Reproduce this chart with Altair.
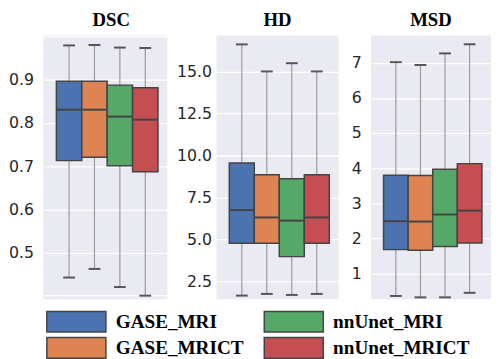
import altair as alt
import pandas as pd

methods = ["GASE_MRI", "GASE_MRICT", "nnUnet_MRI", "nnUnet_MRICT"]
colors = ["#4C72B0", "#DD8452", "#55A868", "#C44E52"]

# legend grid position of each method (col, row)
legend_col = [0, 0, 1, 1]
legend_row = [0, 1, 0, 1]

# DSC box statistics
dsc_lo = [0.442, 0.462, 0.420, 0.400]
dsc_q1 = [0.713, 0.721, 0.701, 0.687]
dsc_med = [0.831, 0.831, 0.815, 0.808]
dsc_q3 = [0.897, 0.897, 0.888, 0.882]
dsc_hi = [0.980, 0.981, 0.975, 0.974]

# HD box statistics
hd_lo = [1.66, 1.76, 1.70, 1.76]
hd_q1 = [4.77, 4.77, 3.98, 4.77]
hd_med = [6.75, 6.31, 6.12, 6.31]
hd_q3 = [9.55, 8.85, 8.62, 8.85]
hd_hi = [16.61, 15.00, 15.49, 15.00]

# MSD box statistics
msd_lo = [0.36, 0.32, 0.32, 0.45]
msd_q1 = [1.68, 1.66, 1.77, 1.87]
msd_med = [2.49, 2.48, 2.68, 2.79]
msd_q3 = [3.80, 3.79, 3.97, 4.13]
msd_hi = [7.02, 6.94, 7.27, 7.53]

dsc_ticks = [0.5, 0.6, 0.7, 0.8, 0.9]
dsc_extra_grid = [0.4, 1.0]
hd_ticks = [2.5, 5.0, 7.5, 10.0, 12.5, 15.0]
msd_ticks = [1, 2, 3, 4, 5, 6, 7]

BG = "#EAEAF2"
EDGE = "#444444"
TXT = "#262626"
PANEL_H = 268
PAD_OUT = 0.44


def make_df(lo, q1, med, q3, hi):
    return pd.DataFrame({"method": methods, "lo": lo, "q1": q1, "med": med,
                         "q3": q3, "hi": hi})


def panel(df, title, domain, ticks, fmt, width, label_pad, min_extent, title_dx,
          extra_grid=None):
    band = width / (4 + 2 * PAD_OUT)
    x = alt.X("method:N", sort=methods, axis=None,
              scale=alt.Scale(paddingInner=0, paddingOuter=PAD_OUT, align=0.58))
    yscale = alt.Scale(domain=domain, nice=False, zero=False)
    axis = alt.Axis(values=ticks, format=fmt, grid=True, gridColor="white",
                    gridWidth=1.3, domain=False, ticks=False, labelPadding=label_pad,
                    minExtent=min_extent, labelFont="DejaVu Sans", labelFontSize=16,
                    labelColor=TXT, title=None)
    base = alt.Chart(df).encode(x=x)
    whisk = base.mark_rule(color="#9a9a9a", strokeWidth=1.2).encode(
        y=alt.Y("lo:Q", scale=yscale, axis=axis), y2="hi:Q")
    box = base.mark_bar(stroke=EDGE, strokeWidth=1.5, opacity=1).encode(
        y=alt.Y("q1:Q"), y2="q3:Q",
        color=alt.Color("method:N", scale=alt.Scale(domain=methods, range=colors),
                        legend=None))
    med = base.mark_tick(color=EDGE, thickness=2, size=band - 1, opacity=1).encode(y="med:Q")
    cap_lo = base.mark_tick(color="#555555", thickness=2, size=12, opacity=1).encode(y="lo:Q")
    cap_hi = base.mark_tick(color="#555555", thickness=2, size=12, opacity=1).encode(y="hi:Q")
    layers = [whisk, box, med, cap_lo, cap_hi]
    if extra_grid:
        g = alt.Chart(pd.DataFrame({"v": extra_grid})).mark_rule(
            color="white", strokeWidth=1.3).encode(y="v:Q")
        layers = [whisk, g, box, med, cap_lo, cap_hi]
    return alt.layer(*layers).properties(
        width=width, height=PANEL_H,
        view=alt.ViewBackground(fill=BG, strokeWidth=0),
        title=alt.TitleParams(title, font="Liberation Serif", fontWeight="bold",
                              fontSize=19, color="black", offset=-13, dx=title_dx,
                              baseline="bottom"),
    )


p_dsc = panel(make_df(dsc_lo, dsc_q1, dsc_med, dsc_q3, dsc_hi), "DSC", [0.392, 1.003],
              dsc_ticks, ".1f", 126, 10, 30, 6, dsc_extra_grid)
p_hd = panel(make_df(hd_lo, hd_q1, hd_med, hd_q3, hd_hi), "HD", [1.45, 17.14],
             hd_ticks, ".1f", 124, 5, 43.5, 0)
p_msd = panel(make_df(msd_lo, msd_q1, msd_med, msd_q3, msd_hi), "MSD", [0.27, 7.78],
              msd_ticks, "d", 122, 10, 28, 0)

top = alt.hconcat(p_dsc, p_hd, p_msd, spacing=5).resolve_scale(
    y="independent", x="independent")

leg_df = pd.DataFrame({"method": methods, "col": legend_col, "row": legend_row})
lx = alt.X("col:Q", scale=alt.Scale(domain=[0, 1], range=[33.5, 254.5]), axis=None)
ly = alt.Y("row:Q", scale=alt.Scale(domain=[0, 1], range=[23, 49.5]), axis=None)
lbase = alt.Chart(leg_df).encode(x=lx, y=ly)
swatch = lbase.mark_point(shape="M-1,-0.35H1V0.35H-1Z", size=3600, filled=True,
                          opacity=1, stroke=EDGE, strokeWidth=1.5).encode(
    color=alt.Color("method:N", scale=alt.Scale(domain=methods, range=colors), legend=None))
labels = lbase.mark_text(align="left", baseline="middle", dx=40, font="Liberation Serif",
                         fontWeight="bold", fontSize=19.5, color="black").encode(
    text="method:N")
legend = alt.layer(swatch, labels).properties(width=420, height=50)

chart = alt.vconcat(top, legend, spacing=0).properties(
    padding={"left": 0, "top": 0, "right": 0, "bottom": 0}
).configure_view(strokeWidth=0)

chart.save("out.html", embed_options={"renderer": "svg", "actions": False})
